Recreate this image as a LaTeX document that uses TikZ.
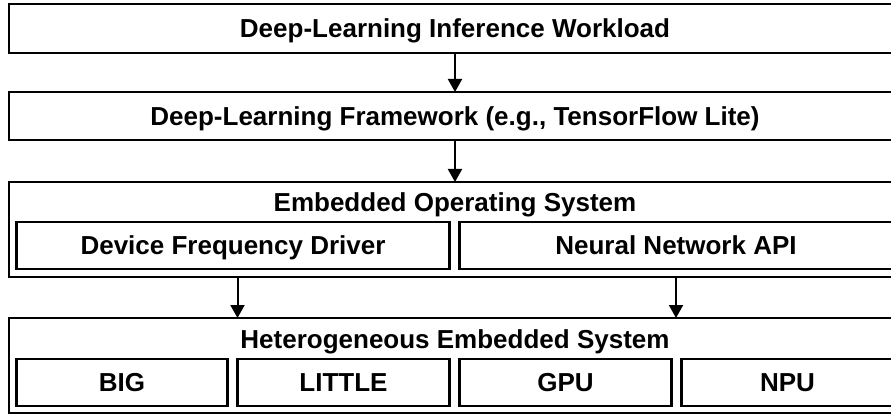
\documentclass[tikz,border=0pt]{standalone}
\usepackage{fontspec}
\setmainfont{Liberation Sans}
\usepackage{tikz}
\usetikzlibrary{
  arrows.meta,
  positioning,
  calc
}
\tikzset{
  layer/.style={
    draw, line width=2.6pt, minimum width=892pt, inner sep=0pt, outer sep=0pt,
    font=\fontsize{26}{30}\selectfont\bfseries, align=center,
    text height=18.6pt, text depth=0pt
  },
  unit/.style={
    draw, line width=2.2pt, minimum height=47pt, inner sep=0pt, outer sep=0pt,
    font=\fontsize{26}{30}\selectfont\bfseries, anchor=south west,
    text height=18.6pt, text depth=0pt
  },
  title/.style={font=\fontsize{26}{30}\selectfont\bfseries, inner sep=0pt,
    text height=18.6pt, text depth=0pt},
  flow/.style={-{Triangle[length=13pt, width=14pt]}, line width=2pt}
}
\begin{document}
\begin{tikzpicture}[x=1pt, y=1pt, node distance=40pt]
  \useasboundingbox (0,0) rectangle (891,-414);
  % software stack
  \node[layer, minimum height=49pt] (wl) at (455,-28.5) {Deep-Learning Inference Workload};
  \node[layer, minimum height=48pt, below=39pt of wl] (fw) {Deep-Learning Framework (e.g., TensorFlow Lite)};
  \node[layer, minimum height=95pt, below=42pt of fw] (os) {};
  \node[title] (ostitle) at ($(os.north)+(0,-20.5pt)$) {Embedded Operating System};
  \node[unit, minimum width=433pt] (dfd) at ($(os.south west)+(7.5pt,8pt)$) {Device Frequency Driver};
  \node[unit, minimum width=433pt] (nnapi) at ($(dfd.south east)+(10pt,0)$) {Neural Network API};
  % hardware
  \node[layer, minimum height=95pt, below=41pt of os] (hes) {};
  \node[title] (hestitle) at ($(hes.north)+(0,-21pt)$) {Heterogeneous Embedded System};
  \node[unit, minimum width=211pt] (big) at ($(hes.south west)+(7.5pt,7pt)$) {BIG};
  \node[unit, minimum width=212pt] (little) at ($(big.south east)+(10pt,0)$) {LITTLE};
  \node[unit, minimum width=212pt] (gpu) at ($(little.south east)+(10pt,0)$) {GPU};
  \node[unit, minimum width=212pt] (npu) at ($(gpu.south east)+(10pt,0)$) {NPU};
  % arrows
  \coordinate (dfdout) at ($(dfd.south)+(4.5pt,0)$);
  \draw[flow] (wl) -- (fw);
  \draw[flow] (fw) -- (os);
  \draw[flow] (dfdout |- os.south) -- (dfdout |- hes.north);
  \draw[flow] (nnapi |- os.south) -- (nnapi |- hes.north);
\end{tikzpicture}
\end{document}
